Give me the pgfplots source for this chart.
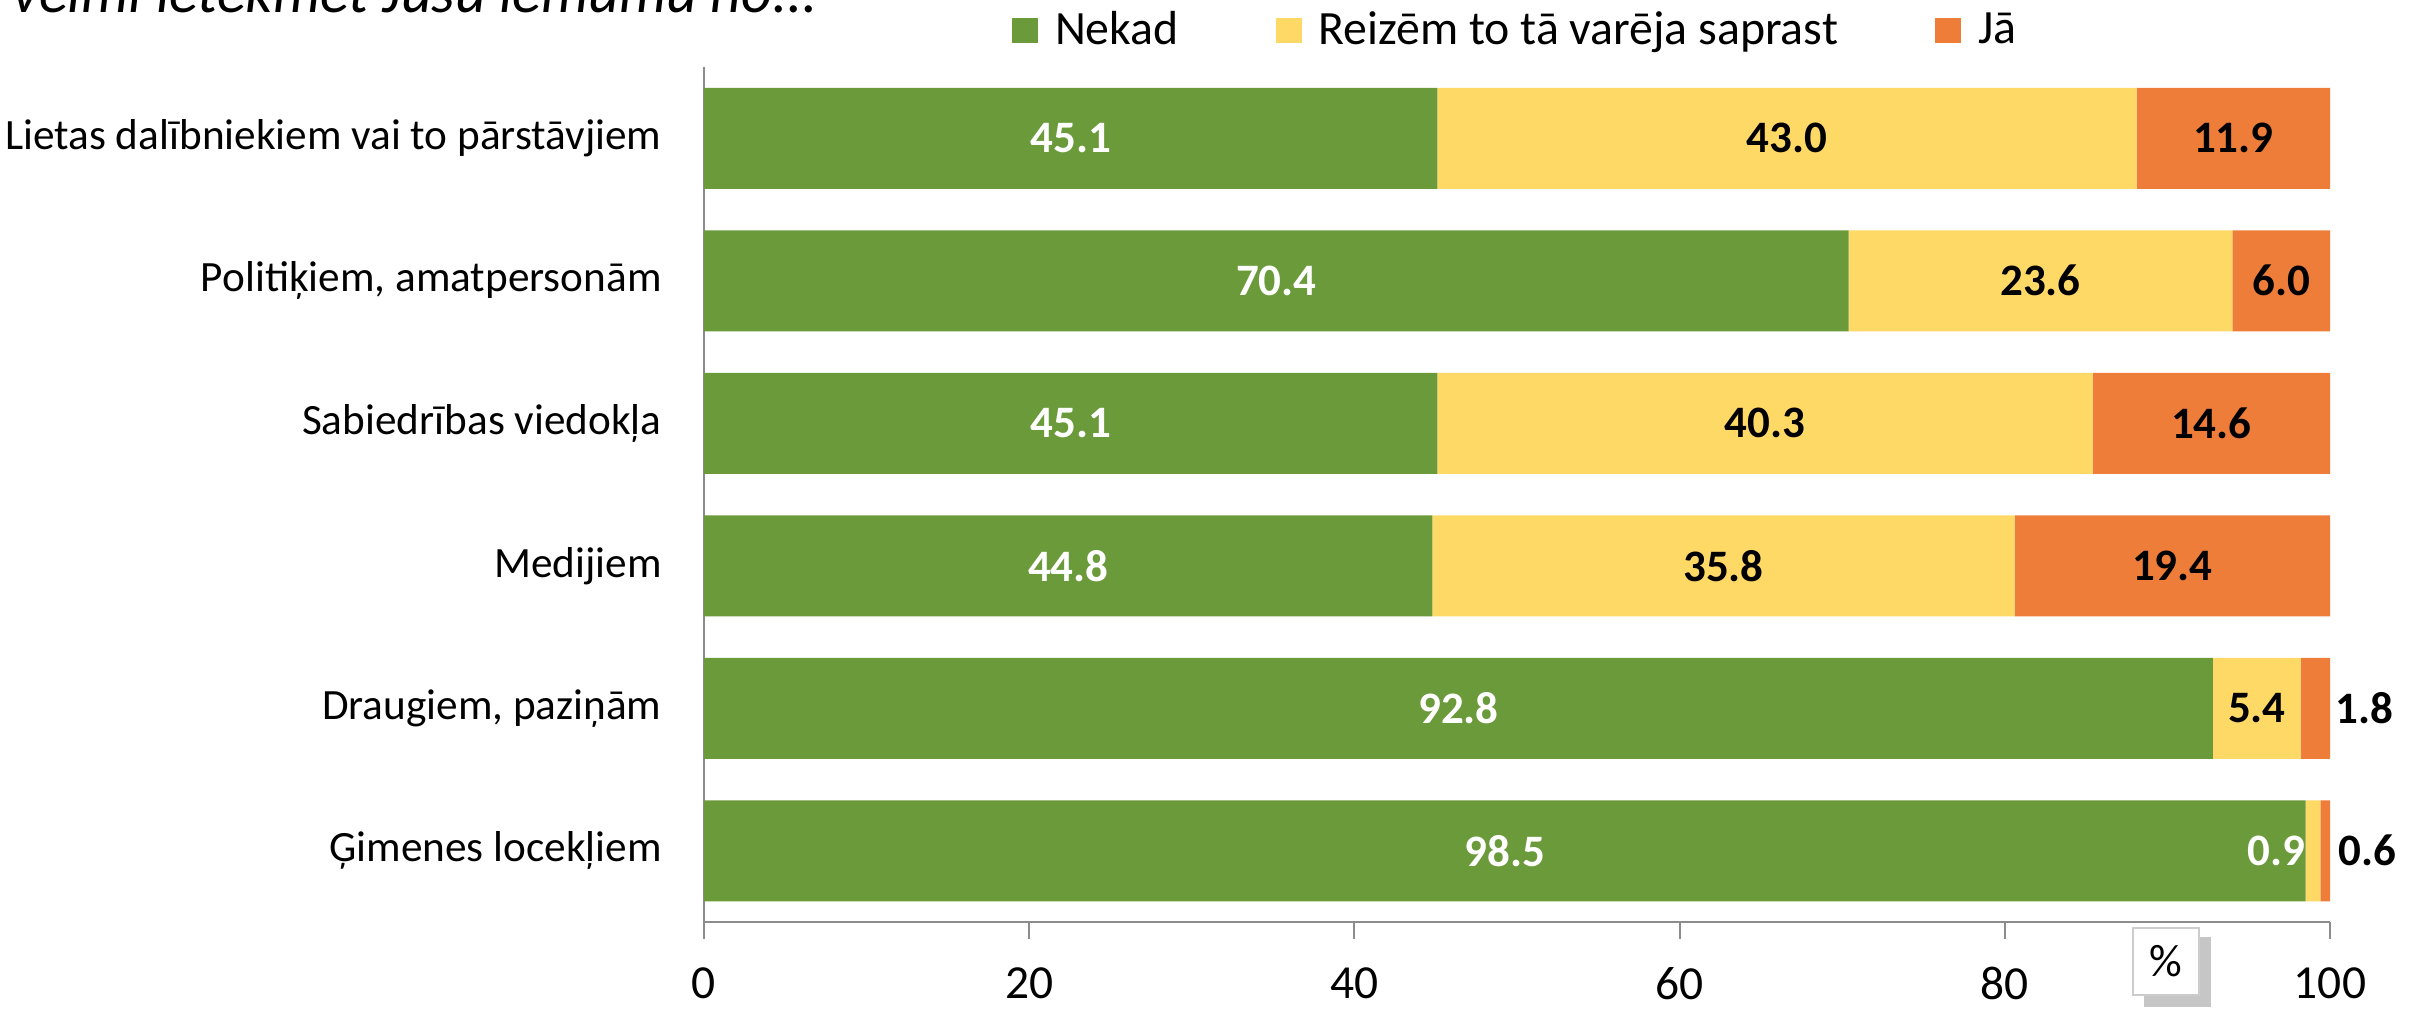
\documentclass[border=0pt]{standalone}
\usepackage{pgfplots}
\pgfplotsset{compat=1.18}
\usepackage{fontspec}
\setmainfont{Carlito}

\definecolor{cGreen}{HTML}{6B9A3B}
\definecolor{cYellow}{HTML}{FFD966}
\definecolor{cOrange}{HTML}{EE7D3A}
\definecolor{axisgray}{HTML}{8C8C8C}

\begin{document}
\begin{tikzpicture}
% title, cut off at the top as in the source
\node[anchor=base west, inner sep=0, font=\fontsize{17}{20}\selectfont\itshape] at (0.12,10.04) {vēlmi ietekmēt Jūsu lēmumu no...};

\begin{axis}[
    at={(7.04cm,0.95cm)}, anchor=south west,
    scale only axis,
    width=16.26cm,
    height=8.55cm,
    xbar stacked,
    bar width=1.01cm,
    xmin=0, xmax=100,
    ymin=-0.5, ymax=5.5,
    y dir=reverse,
    xtick={0,20,...,100},
    ytick={0,...,5},
    yticklabels={Lietas dalībniekiem vai to pārstāvjiem, {Politiķiem, amatpersonām}, Sabiedrības viedokļa\ , Medijiem, {Draugiem, paziņām}, Ģimenes locekļiem},
    axis x line*=bottom,
    axis y line*=left,
    axis line style={axisgray, line width=0.6pt, -},
    xtick style={axisgray, line width=0.6pt},
    ytick style={draw=none},
    xtick align=outside,
    major tick length=0.17cm,
    /pgf/number format/assume math mode=true,
    xticklabel style={font=\fontsize{13.5}{16}\selectfont, yshift=-0.16cm},
    yticklabel style={font=\fontsize{12.3}{15}\selectfont, xshift=-0.3cm},
    point meta=explicit symbolic,
    nodes near coords,
    every node near coord/.append style={font=\fontsize{12.8}{15}\selectfont\bfseries},
    legend columns=-1,
    legend style={at={(0.189,1.0427)}, anchor=west, draw=none, fill=none,
        font=\fontsize{13.6}{16}\selectfont, inner sep=0pt,
        /tikz/every even column/.append style={column sep=0.9cm}},
    legend image code/.code={\draw[#1, draw=none] (0cm,-0.125cm) rectangle (0.26cm,0.125cm); \path (0.36cm,0cm);},
]

% Nekad
\addplot[fill=cGreen, draw=none, every node near coord/.append style={text=white}] coordinates {
    (45.1,0) [45.1] (70.4,1) [70.4] (45.1,2) [45.1] (44.8,3) [44.8] (92.8,4) [92.8] (98.5,5) [98.5]
};

% Reizēm to tā varēja saprast
\addplot[fill=cYellow, draw=none] coordinates {
    (43.0,0) [43.0] (23.6,1) [23.6] (40.3,2) [40.3] (35.8,3) [35.8] (5.4,4) [5.4] (0.9,5) []
};

% Jā
\addplot[fill=cOrange, draw=none] coordinates {
    (11.9,0) [11.9] (6.0,1) [6.0] (14.6,2) [14.6] (19.4,3) [19.4] (1.8,4) [] (0.6,5) []
};

\legend{Nekad, Reizēm to tā varēja saprast, Jā}

% anchors for the labels of the thin segments
\coordinate (l09) at (axis cs:98.5,5);
\coordinate (l18) at (axis cs:100.3,4);
\coordinate (l06) at (axis cs:100.5,5);
\end{axis}

\node[font=\fontsize{12.8}{15}\selectfont\bfseries, text=white, anchor=east, inner sep=0pt] at (l09) {0.9};
\node[font=\fontsize{12.8}{15}\selectfont\bfseries, anchor=west, inner sep=0pt] at (l18) {1.8};
\node[font=\fontsize{12.8}{15}\selectfont\bfseries, anchor=west, inner sep=0pt] at (l06) {0.6};

% percent box with shadow
\fill[gray!45] (21.44,0.10) rectangle (22.11,0.80);
\draw[gray!40, fill=white] (21.33,0.22) rectangle (21.99,0.89);
\node[font=\fontsize{13}{15}\selectfont] at (21.66,0.56) {\%};

\pgfresetboundingbox
\useasboundingbox (0,0) rectangle (24.27,10.17);
\end{tikzpicture}
\end{document}
